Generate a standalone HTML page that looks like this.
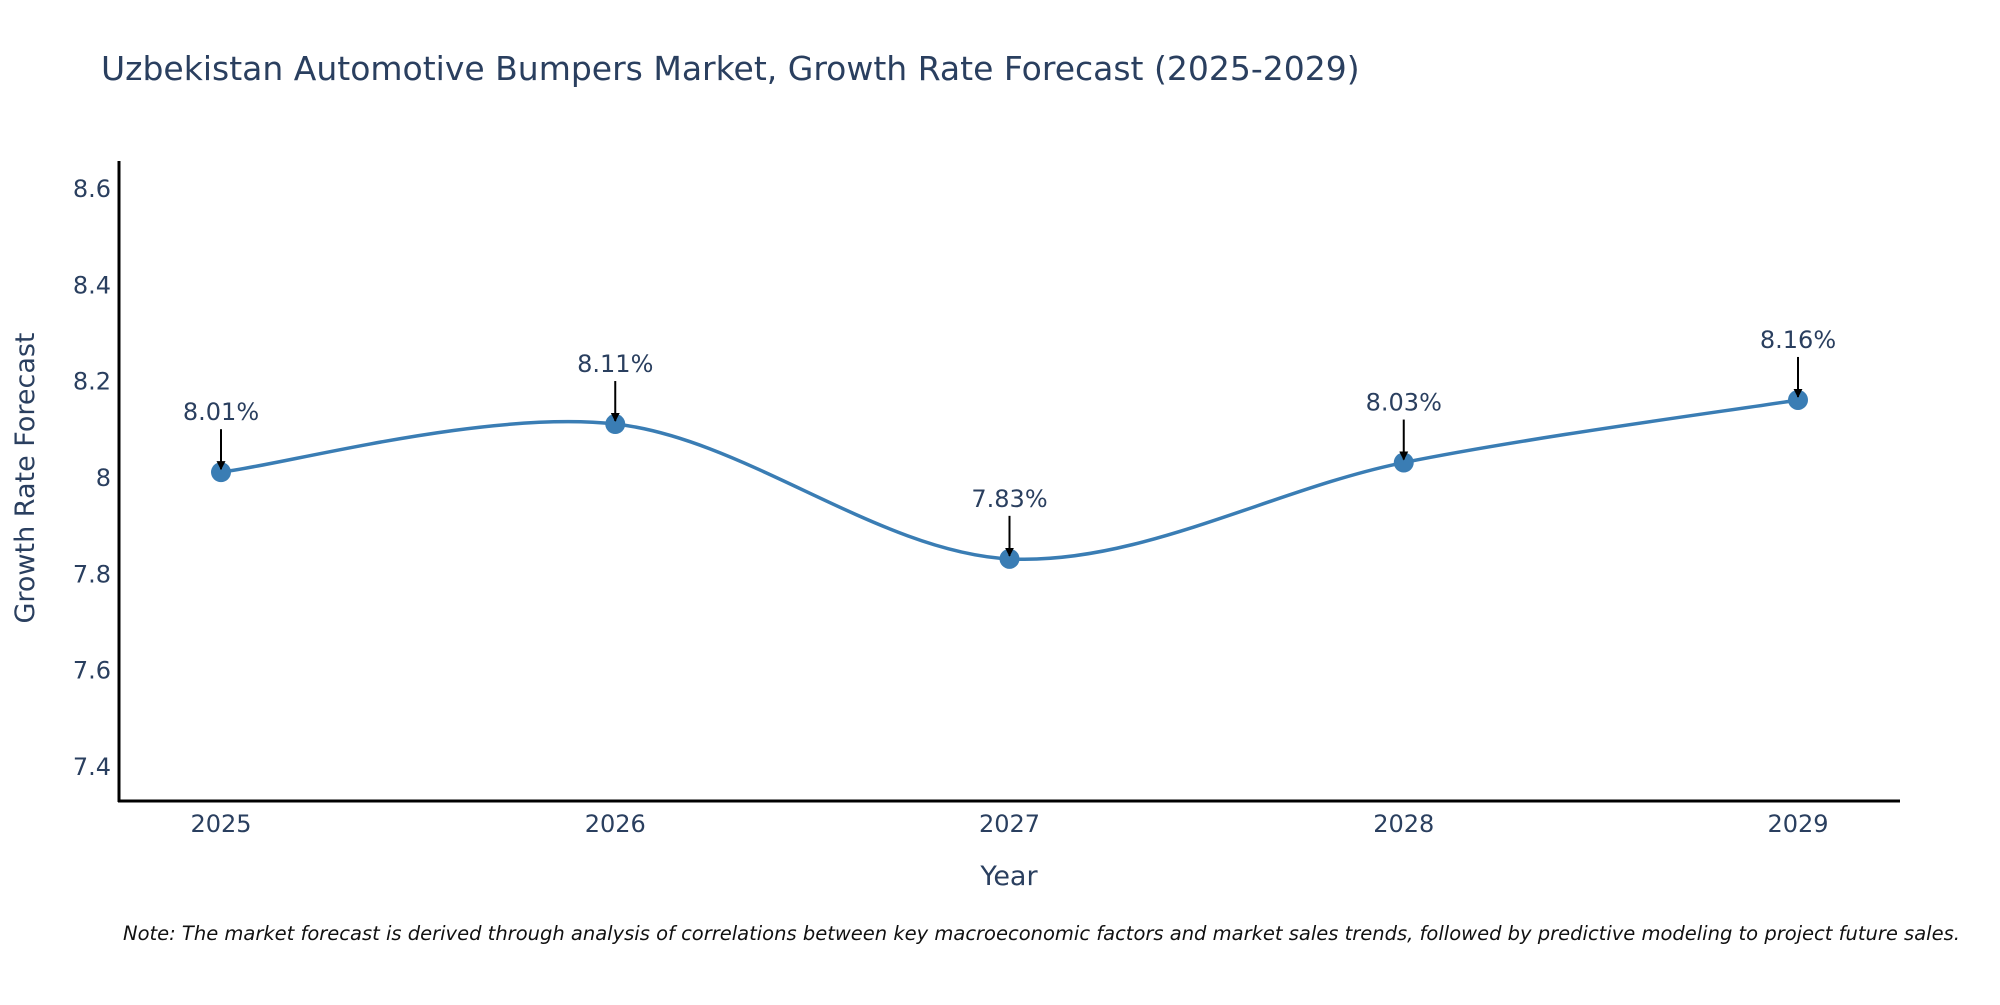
<!DOCTYPE html>
<html><head><meta charset="utf-8"><style>
body{margin:0;background:#fff;}
svg text{font-family:"DejaVu Sans","Liberation Sans",sans-serif;fill:#2a3f5f;}
</style></head><body>
<svg width="2000" height="1000" xmlns="http://www.w3.org/2000/svg">
<defs><marker id="ah" viewBox="0 0 10 10" refX="9" refY="5" markerWidth="4.5" markerHeight="4.5" markerUnits="strokeWidth" orient="auto"><path d="M0,0 L10,5 L0,10 z" fill="#000"/></marker></defs>
<text x="101" y="80" font-size="33">Uzbekistan Automotive Bumpers Market, Growth Rate Forecast (2025-2029)</text>
<g id="yticks"></g><g id="xticks"></g>
<line x1="119" y1="161" x2="119" y2="802" stroke="#000" stroke-width="3"/>
<line x1="118" y1="801" x2="1900" y2="801" stroke="#000" stroke-width="3"/>
<text transform="translate(34,478) rotate(-90)" text-anchor="middle" font-size="27">Growth Rate Forecast</text>
<text x="1009" y="885" text-anchor="middle" font-size="27">Year</text>
<text x="123" y="940" font-size="19.5" font-style="italic" fill="#000" style="fill:#111">Note: The market forecast is derived through analysis of correlations between key macroeconomic factors and market sales trends, followed by predictive modeling to project future sales.</text>
<g id="series"></g>
</svg>
<script>
const years=["2025","2026","2027","2028","2029"];
const values=[8.01,8.11,7.83,8.03,8.16];
const labels=["8.01%","8.11%","7.83%","8.03%","8.16%"];
const yTicks=[7.4,7.6,7.8,8,8.2,8.4,8.6];
const NS="http://www.w3.org/2000/svg";
function xs(i){return 221+i*(1798-221)/(years.length-1);}
function ys(v){return 477-(v-8)*481.5;}
function mk(t,a,p){const e=document.createElementNS(NS,t);for(const k in a)e.setAttribute(k,a[k]);p.appendChild(e);return e;}
const yt=document.getElementById('yticks');
yTicks.forEach(v=>{const t=mk('text',{x:111,y:ys(v)+9,'text-anchor':'end','font-size':24},yt);t.textContent=String(v);

});
const xt=document.getElementById('xticks');
years.forEach((y,i)=>{const t=mk('text',{x:xs(i),y:832,'text-anchor':'middle','font-size':24},xt);t.textContent=y;

});
const g=document.getElementById('series');
const P=values.map((v,i)=>[xs(i),ys(v)]);
let d='M'+P[0][0]+','+P[0][1];const s=0.33;
for(let i=0;i<P.length-1;i++){const p0=P[Math.max(0,i-1)],p1=P[i],p2=P[i+1],p3=P[Math.min(P.length-1,i+2)];
const c1=[p1[0]+(p2[0]-p0[0])*s/2,p1[1]+(p2[1]-p0[1])*s/2];
const c2=[p2[0]-(p3[0]-p1[0])*s/2,p2[1]-(p3[1]-p1[1])*s/2];
d+=' C'+c1[0]+','+c1[1]+' '+c2[0]+','+c2[1]+' '+p2[0]+','+p2[1];}
const line=mk('path',{d:d,fill:'none',stroke:'#3a7db4','stroke-width':3.5},g);


P.forEach((p,i)=>{const c=mk('circle',{cx:p[0],cy:p[1],r:10,fill:'#3a7db4'},g);


const a=mk('line',{x1:p[0],y1:p[1]-43,x2:p[0],y2:p[1]-3,stroke:'#000','stroke-width':2,'marker-end':'url(#ah)'},g);


const t=mk('text',{x:p[0],y:p[1]-52,'text-anchor':'middle','font-size':24},g);t.textContent=labels[i];

});
</script>
</body></html>
